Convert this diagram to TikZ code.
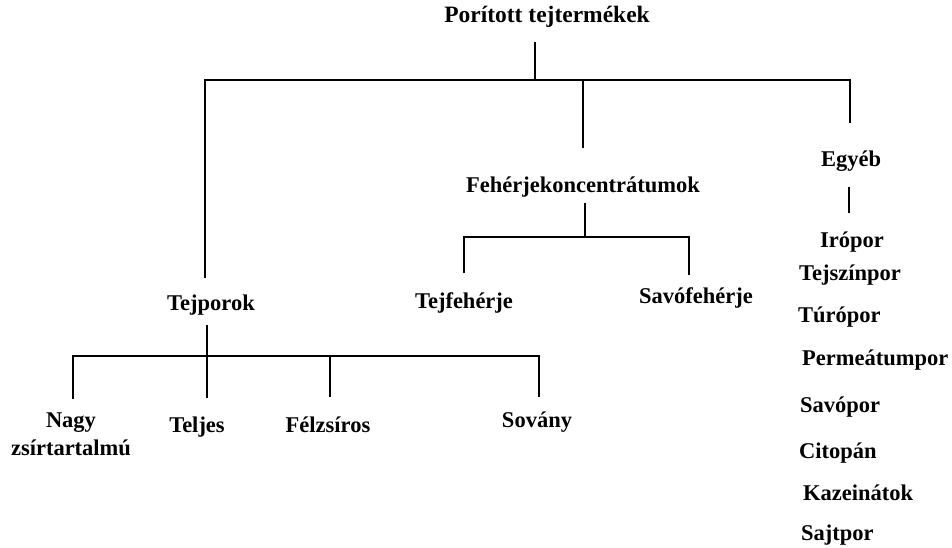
\documentclass[tikz,border=0pt]{standalone}
\usepackage{fontspec}
\setmainfont{Liberation Serif}
\begin{document}
\begin{tikzpicture}[x=1pt,y=-1pt,
  lbl/.style={font=\bfseries\fontsize{22.5}{27}\selectfont, inner sep=0pt, anchor=base},
  lblw/.style={lbl, anchor=base west},
  link/.style={line width=1.4pt, black}]
\useasboundingbox[fill=white] (0,0) rectangle (952,548);

% labels
\node[lbl, font=\bfseries\fontsize{23.5}{28}\selectfont] (root) at (547,23) {Porított tejtermékek};
\node[lbl] (tejporok) at (211,310) {Tejporok};
\node[lbl] (feher) at (583,193) {Fehérjekoncentrátumok};
\node[lbl] (egyeb) at (851,167) {Egyéb};
\node[lbl] (tejfeh) at (464,308) {Tejfehérje};
\node[lbl] (savofeh) at (696,303) {Savófehérje};
\node[lbl, align=center] (nagy) at (71,455) {Nagy\\[1pt]zsírtartalmú};
\node[lbl] (teljes) at (197,432) {Teljes};
\node[lbl] (felzs) at (328,432) {Félzsíros};
\node[lbl] (sovany) at (537,427) {Sovány};
\node[lbl] (iro) at (852,247) {Irópor};
\node[lbl] (tejsz) at (850,280) {Tejszínpor};
\node[lblw] (turo) at (798,322) {Túrópor};
\node[lblw] (perm) at (802,365) {Permeátumpor};
\node[lblw] (savo) at (800,412) {Savópor};
\node[lblw] (cito) at (799,458) {Citopán};
\node[lblw] (kaz) at (803,500) {Kazeinátok};
\node[lblw] (sajt) at (801,540) {Sajtpor};

% joints
\coordinate (rootB) at (535,42);
\coordinate (rootJ) at (535,80);
\coordinate (jL) at (205,80);
\coordinate (jM) at (583,80);
\coordinate (jR) at (850,80);
\coordinate (tejporokT) at (205,278);
\coordinate (feherT) at (583,148);
\coordinate (egyebT) at (850,123);

\coordinate (feherB) at (585,203);
\coordinate (feherJ) at (585,237);
\coordinate (fjL) at (464,237);
\coordinate (fjR) at (689,237);
\coordinate (tejfehT) at (464,273);
\coordinate (savofehT) at (689,275);

\coordinate (egyebB) at (849,187);
\coordinate (iroT) at (849,213);

\coordinate (tejporokB) at (207,325);
\coordinate (tjM) at (207,356);
\coordinate (tjL) at (73,356);
\coordinate (tjF) at (330,356);
\coordinate (tjR) at (539,356);
\coordinate (nagyT) at (73,399);
\coordinate (teljesT) at (207,398);
\coordinate (felzsT) at (330,397);
\coordinate (sovanyT) at (539,397);

% connectors
\draw[link] (rootB) -- (rootJ);
\draw[link] (tejporokT) -- (jL) -- (jR) -- (egyebT);
\draw[link] (jM) -- (feherT);

\draw[link] (feherB) -- (feherJ);
\draw[link] (tejfehT) -- (fjL) -- (fjR) -- (savofehT);

\draw[link] (egyebB) -- (iroT);

\draw[link] (tejporokB) -- (teljesT);
\draw[link] (nagyT) -- (tjL) -- (tjR) -- (sovanyT);
\draw[link] (tjF) -- (felzsT);
\end{tikzpicture}
\end{document}
